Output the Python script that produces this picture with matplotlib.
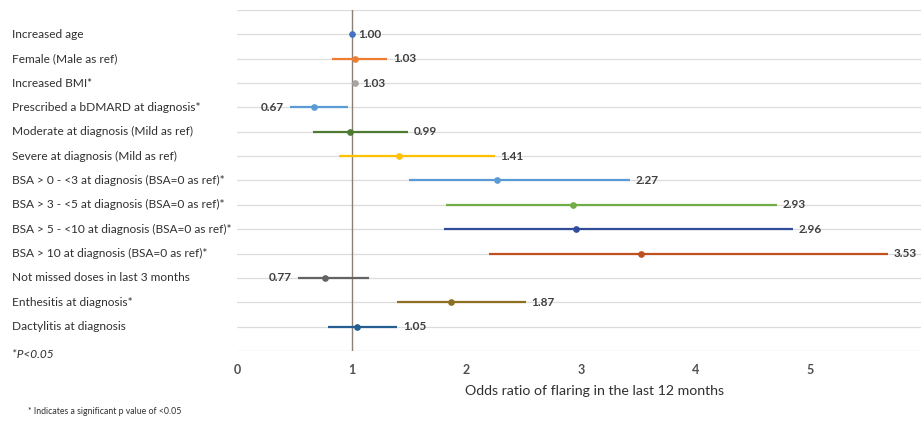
import matplotlib.pyplot as plt
from matplotlib.transforms import blended_transform_factory

plt.rcParams['font.family'] = ['Lato', 'DejaVu Sans']

# Data
labels = [
    "Increased age",
    "Female (Male as ref)",
    "Increased BMI*",
    "Prescribed a bDMARD at diagnosis*",
    "Moderate at diagnosis (Mild as ref)",
    "Severe at diagnosis (Mild as ref)",
    "BSA > 0 - <3 at diagnosis (BSA=0 as ref)*",
    "BSA > 3 - <5 at diagnosis (BSA=0 as ref)*",
    "BSA > 5 - <10 at diagnosis (BSA=0 as ref)*",
    "BSA > 10 at diagnosis (BSA=0 as ref)*",
    "Not missed doses in last 3 months",
    "Enthesitis at diagnosis*",
    "Dactylitis at diagnosis",
]
odds = [1.00, 1.03, 1.03, 0.67, 0.99, 1.41, 2.27, 2.93, 2.96, 3.53, 0.77, 1.87, 1.05]
ci_low = [0.99, 0.83, 1.02, 0.46, 0.66, 0.89, 1.50, 1.82, 1.81, 2.20, 0.53, 1.40, 0.79]
ci_high = [1.01, 1.31, 1.04, 0.97, 1.49, 2.25, 3.43, 4.71, 4.85, 5.68, 1.15, 2.52, 1.40]
colors = ["#4472C4", "#ED7D31", "#A5A5A5", "#5B9BD5", "#4E7A32", "#FFC000",
          "#5B9BD5", "#70AD47", "#2F4B9A", "#C0501E", "#636363", "#8C7020", "#255E91"]
label_left = [False, False, False, True, False, False, False, False, False, False, True, False, False]

fig = plt.figure(figsize=(9.21, 4.28), dpi=100)
ax = fig.add_axes([237 / 921, 1 - 351 / 428, 1 - 237 / 921, 341 / 428])

ypos = list(range(1, len(labels) + 1))
for y, o, lo, hi, c, left in zip(ypos, odds, ci_low, ci_high, colors, label_left):
    ax.plot([lo, hi], [y, y], color=c, lw=1.6, solid_capstyle='butt', zorder=3)
    ax.plot(o, y, 'o', color=c, ms=3.8, zorder=4)
    if left:
        ax.text(lo - 0.05, y, f"{o:.2f}", ha='right', va='center', fontsize=8.5,
                fontweight='bold', color='#404040')
    else:
        ax.text(hi + 0.05, y, f"{o:.2f}", ha='left', va='center', fontsize=8.5,
                fontweight='bold', color='#404040')

ax.axvline(1, color='#8A8078', lw=1.0, zorder=2)

ax.set_xlim(0, 5.97)
ax.set_ylim(14, 0)
ax.set_yticks(range(0, 15))
ax.set_yticklabels([])
ax.tick_params(axis='y', length=0)
ax.grid(axis='y', color='#DCDCDC', lw=0.9)
ax.set_xticks(range(0, 6))
ax.tick_params(axis='x', length=0, labelsize=9, labelcolor='#505050', pad=9)
for t in ax.get_xticklabels():
    t.set_fontweight('bold')
for s in ax.spines.values():
    s.set_visible(False)
ax.set_xlabel("Odds ratio of flaring in the last 12 months", fontsize=10.2,
              color='#303030')
ax.xaxis.set_label_coords(0.523, -0.1)

trans = blended_transform_factory(fig.transFigure, ax.transData)
for y, lab in zip(ypos, labels):
    ax.text(12 / 921, y, lab, transform=trans, ha='left', va='center',
            fontsize=8.6, color='#303030')
ax.text(12 / 921, 14.15, "*P<0.05", transform=trans, ha='left', va='center',
        fontsize=8.6, style='italic', color='#303030')

fig.text(28 / 921, 1 - 412 / 428, "* Indicates a significant p value of <0.05",
         ha='left', va='center', fontsize=6.3, color='#303030')

fig.savefig("out.png", dpi=100)
